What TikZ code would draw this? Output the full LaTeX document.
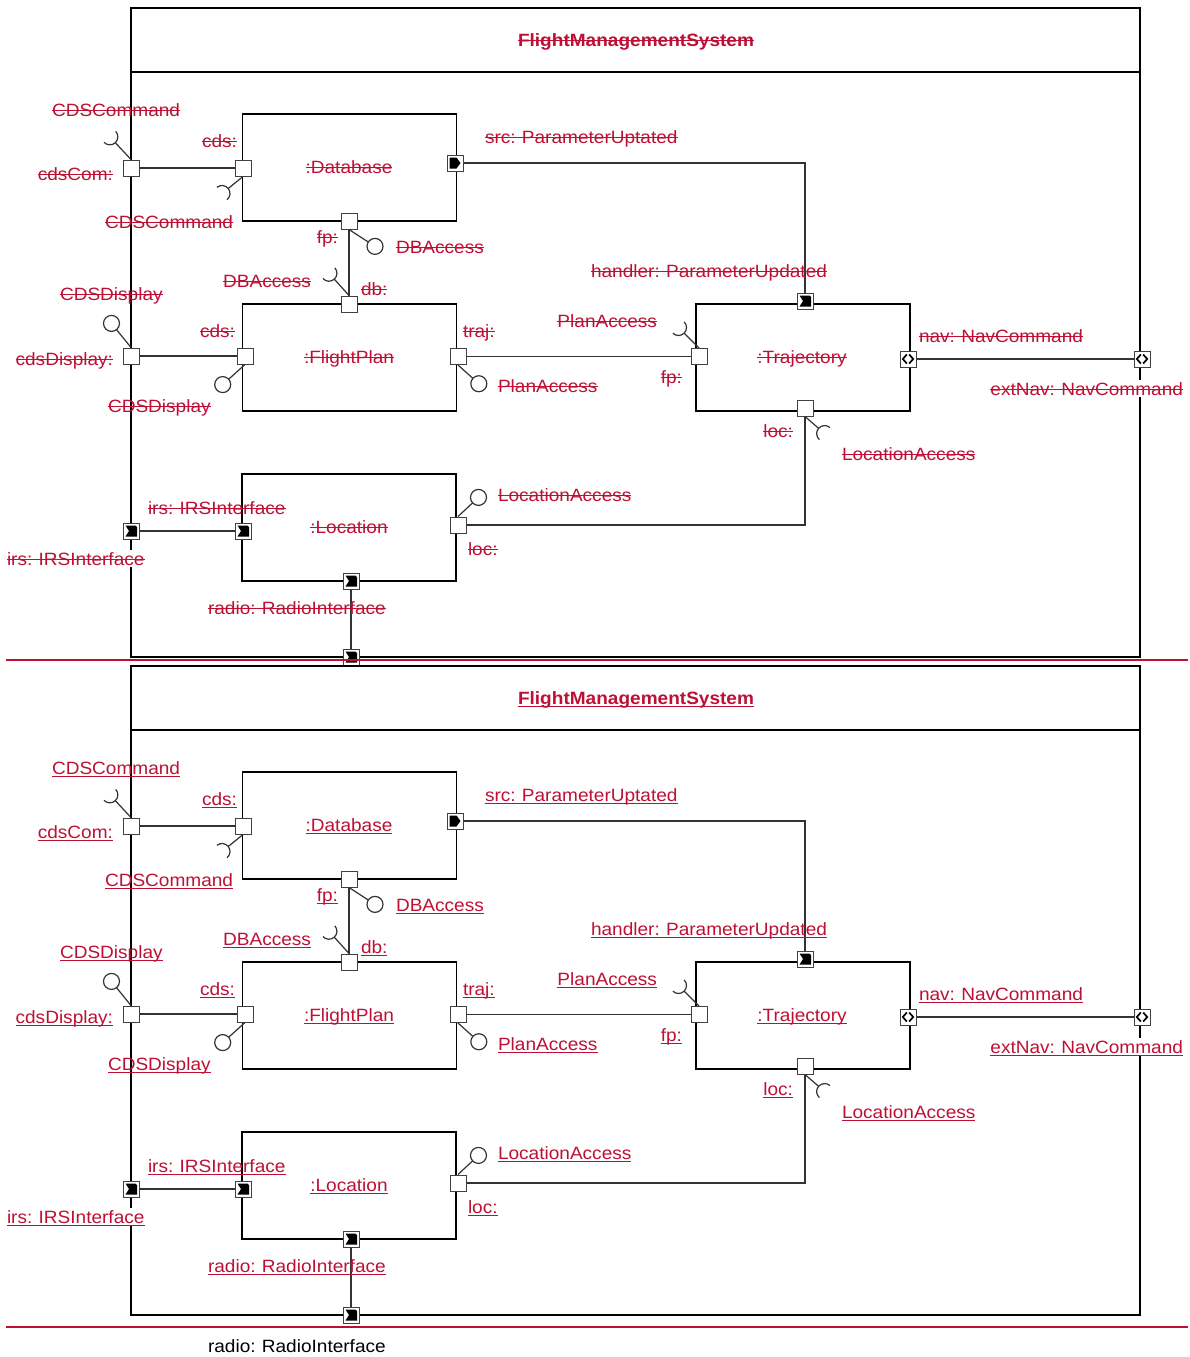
\documentclass[tikz,border=0pt]{standalone}
\usepackage{fontspec}
\setmainfont{Liberation Sans}[FakeStretch=1.07, WordSpace=0.85]
\usetikzlibrary{calc}
\definecolor{umlred}{RGB}{190,16,52}
\tikzset{
 txt/.style={inner sep=0pt, outer sep=0pt, font=\fontsize{17.8}{20}\selectfont},
 stk/.style={txt, text=umlred, append after command={([yshift=5.3pt]\tikzlastnode.base west) edge[draw=umlred, line width=1.4pt] ([yshift=5.3pt]\tikzlastnode.base east)}},
 und/.style={txt, text=umlred, append after command={([yshift=-2.6pt]\tikzlastnode.base west) edge[draw=umlred, line width=1.4pt] ([yshift=-2.6pt]\tikzlastnode.base east)}},
 frame/.style={draw=black, line width=1.4pt},
 boxst/.style={draw=black, line width=1.3pt, fill=white, inner sep=0pt, minimum width=214pt, minimum height=107pt},
 conn/.style={draw=black!80, line width=1.2pt},
 portst/.style={rectangle, draw=black!75, fill=white, line width=1pt, minimum size=16pt, inner sep=0pt},
 flagport/.style={portst, path picture={\fill[black] ([shift={(-5.5pt,5.5pt)}]path picture bounding box.center) -- ++(10pt,0pt) -- ++(1.5pt,-1.5pt) -- ++(0pt,-9.5pt) -- ++(-11.5pt,0pt) -- ++(3.5pt,5.5pt) -- cycle;}},
 srcport/.style={portst, path picture={\fill[black] ([shift={(-5.5pt,5.5pt)}]path picture bounding box.center) -- ++(7pt,0pt) -- ++(4pt,-5.5pt) -- ++(-4pt,-5.5pt) -- ++(-7pt,0pt) -- cycle;}},
 navport/.style={portst, path picture={\draw[black, line width=1.7pt] ([shift={(-1.2pt,4.5pt)}]path picture bounding box.center) -- ++(-4pt,-4.5pt) -- ++(4pt,-4.5pt); \draw[black, line width=1.7pt] ([shift={(1.2pt,4.5pt)}]path picture bounding box.center) -- ++(4pt,-4.5pt) -- ++(-4pt,-4.5pt);}}
}
\newcommand\umlball[4]{%
 \draw[conn] (#1) -- ++(#2:#3pt) coordinate (#4);
 \draw[conn, fill=white] ($(#4)+(#2:8pt)$) circle[radius=8pt];}
\newcommand\umlsock[4]{%
 \draw[conn] (#1) -- ++(#2:#3pt) coordinate (#4);
 \draw[conn] ($(#4)+(#2:8pt)+({#2+90}:8pt)$) arc[start angle={#2+90}, end angle={#2+270}, radius=8pt];}
\newcommand\fmscopy[3]{%
\begin{scope}[shift={(0,#1)}, lab/.style={#2}]
 \draw[frame] (131,8) rectangle (1140,657);
 \draw[frame] (131,72) -- (1140,72);
 \node[boxst] (#3Database) at (349.5,167.5) {};
 \node[boxst] (#3FlightPlan) at (349.5,357.5) {};
 \node[boxst] (#3Trajectory) at (803,357.5) {};
 \node[boxst] (#3Location) at (349,527.5) {};
 % ports
 \node[portst] (#3pCdsComB) at (131,168) {};
 \node[portst] (#3pCdsDB) at (243,168) {};
 \node[srcport] (#3pSrc) at (455,163) {};
 \node[portst] (#3pFpDB) at (349,221) {};
 \node[portst] (#3pDbFP) at (349,304) {};
 \node[portst] (#3pCdsDispB) at (131,356) {};
 \node[portst] (#3pCdsFP) at (245,356) {};
 \node[portst] (#3pTraj) at (458,356.5) {};
 \node[flagport] (#3pHandler) at (805,301) {};
 \node[portst] (#3pFpT) at (699,356.5) {};
 \node[navport] (#3pNav) at (908,359) {};
 \node[navport] (#3pExtNav) at (1142,359) {};
 \node[portst] (#3pLocT) at (805,408) {};
 \node[flagport] (#3pIrsB) at (131,531) {};
 \node[flagport] (#3pIrsL) at (243,531) {};
 \node[portst] (#3pLocL) at (458,525) {};
 \node[flagport] (#3pRadioL) at (351,581) {};
 \node[flagport] (#3pRadioB) at (351,657) {};
 % connectors
 \draw[conn] (#3pCdsComB) -- (#3pCdsDB);
 \draw[conn] (#3pSrc) -| (#3pHandler);
 \draw[conn] (#3pFpDB) -- (#3pDbFP);
 \draw[conn] (#3pCdsDispB) -- (#3pCdsFP);
 \draw[conn] (#3pTraj) -- (#3pFpT);
 \draw[conn] (#3pNav) -- (#3pExtNav);
 \draw[conn] (#3pLocT) |- (#3pLocL);
 \draw[conn] (#3pIrsB) -- (#3pIrsL);
 \draw[conn] (#3pRadioL) -- (#3pRadioB);
 % provided / required interfaces
 \umlsock{#3pCdsComB.north}{133}{23}{#3sA}
 \umlsock{#3pCdsDB.south}{219}{19}{#3sB}
 \umlball{#3pFpDB.south}{327}{23}{#3sC}
 \umlsock{#3pDbFP.north}{132}{22}{#3sD}
 \umlball{#3pCdsDispB.north}{129}{23}{#3sE}
 \umlball{#3pCdsFP.south}{222}{22}{#3sF}
 \umlball{#3pTraj.south}{318}{20}{#3sG}
 \umlsock{#3pFpT.north}{135}{21}{#3sH}
 \umlsock{#3pLocT.south}{319}{18}{#3sI}
 \umlball{#3pLocL.north}{43}{20}{#3sJ}
 % labels
 \node[lab, font=\fontsize{17.8}{20}\selectfont\bfseries, anchor=base] (#3tTitle) at (636,46) {FlightManagementSystem};
 \node[lab, anchor=base west] (#3tCdsCmdA) at (52,116) {CDSCommand};
 \node[lab, anchor=base east] (#3tCdsCom) at (113,180) {cdsCom:};
 \node[lab, anchor=base east] (#3tCdsDB) at (237,147) {cds:};
 \node[lab, anchor=base] (#3tDatabase) at (349,173) {:Database};
 \node[lab, anchor=base west] (#3tCdsCmdB) at (105,228) {CDSCommand};
 \node[lab, anchor=base west] (#3tSrc) at (485,143) {src: ParameterUptated};
 \node[lab, anchor=base east] (#3tFpDB) at (338,243) {fp:};
 \node[lab, anchor=base west] (#3tDBAccA) at (396,253) {DBAccess};
 \node[lab, anchor=base east] (#3tDBAccB) at (311,287) {DBAccess};
 \node[lab, anchor=base west] (#3tDb) at (361,295) {db:};
 \node[lab, anchor=base west] (#3tHandler) at (591,277) {handler: ParameterUpdated};
 \node[lab, anchor=base west] (#3tCdsDispA) at (60,300) {CDSDisplay};
 \node[lab, anchor=base east] (#3tCdsFP) at (235,337) {cds:};
 \node[lab, anchor=base east] (#3tCdsDisp) at (113,365) {cdsDisplay:};
 \node[lab, anchor=base] (#3tFlightPlan) at (349,363) {:FlightPlan};
 \node[lab, anchor=base west] (#3tTraj) at (463,337) {traj:};
 \node[lab, anchor=base east] (#3tPlanAccA) at (657,327) {PlanAccess};
 \node[lab, anchor=base west] (#3tPlanAccB) at (498,392) {PlanAccess};
 \node[lab, anchor=base east] (#3tFpT) at (682,383) {fp:};
 \node[lab, anchor=base] (#3tTrajectory) at (802,363) {:Trajectory};
 \node[lab, anchor=base west] (#3tNav) at (919,342) {nav: NavCommand};
 \node[lab, anchor=base east, fill=white, inner ysep=2pt] (#3tExtNav) at (1183,395) {extNav: NavCommand};
 \node[lab, anchor=base west] (#3tCdsDispB) at (108,412) {CDSDisplay};
 \node[lab, anchor=base east] (#3tLocT) at (793,437) {loc:};
 \node[lab, anchor=base west] (#3tLocAccA) at (842,460) {LocationAccess};
 \node[lab, anchor=base west] (#3tLocAccB) at (498,501) {LocationAccess};
 \node[lab, anchor=base west] (#3tIrsL) at (148,514) {irs: IRSInterface};
 \node[lab, anchor=base] (#3tLocation) at (349,533) {:Location};
 \node[lab, anchor=base west, fill=white, inner ysep=2pt] (#3tIrsB) at (7,565) {irs: IRSInterface};
 \node[lab, anchor=base west] (#3tLocL) at (468,555) {loc:};
 \node[lab, anchor=base west] (#3tRadioL) at (208,614) {radio: RadioInterface};
\end{scope}}
\begin{document}
\begin{tikzpicture}[x=1pt, y=-1pt]
 \useasboundingbox[fill=white] (0,0) rectangle (1189,1357);
 \fmscopy{0}{stk}{a}
 \fmscopy{658}{und}{b}
 \draw[umlred, line width=2pt] (6,660) -- (1188,660);
 \draw[umlred, line width=2pt] (6,1327) -- (1188,1327);
 \node[txt, anchor=base west] (tRadioExt) at (208,1352) {radio: RadioInterface};
\end{tikzpicture}
\end{document}
